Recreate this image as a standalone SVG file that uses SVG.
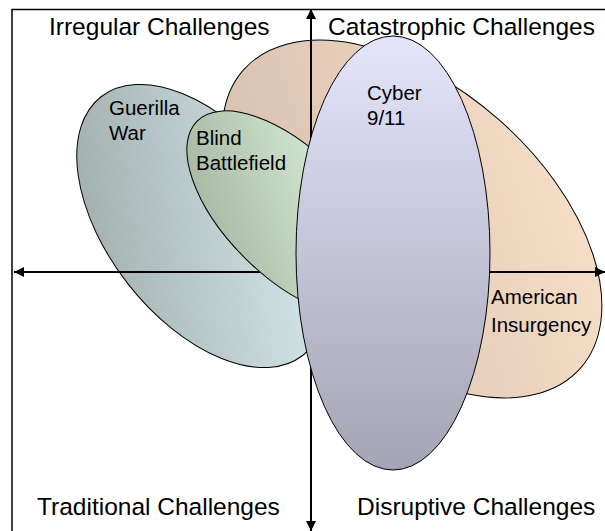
<svg xmlns="http://www.w3.org/2000/svg" width="605" height="531" viewBox="0 0 605 531">
<style>
.t{font-family:"Liberation Sans",Arial,sans-serif;font-size:24.5px;fill:#000}
.n{font-family:"Liberation Sans",Arial,sans-serif;font-size:20.5px;fill:#000}
.e{stroke:#000;stroke-width:1}
.ax{stroke:#000;stroke-width:2;fill:none}
</style>
<defs>
<linearGradient id="gO" x1="1" y1="0" x2="0" y2="1"><stop offset="0" stop-color="#fbe3cb"/><stop offset="1" stop-color="#d2bbab"/></linearGradient>
<linearGradient id="gG" x1="1" y1="0" x2="0" y2="1"><stop offset="0" stop-color="#dff2f6"/><stop offset="1" stop-color="#9aa6a5"/></linearGradient>
<linearGradient id="gB" x1="1" y1="0" x2="0" y2="1"><stop offset="0" stop-color="#e4fbe4"/><stop offset="1" stop-color="#a0b09c"/></linearGradient>
<linearGradient id="gC" x1="0" y1="0" x2="0" y2="1"><stop offset="0" stop-color="#e4e4fb"/><stop offset="1" stop-color="#a4a4b4"/></linearGradient>
<marker id="ah" viewBox="0 0 10 10" refX="10" refY="5" markerWidth="5" markerHeight="5" orient="auto" markerUnits="strokeWidth"><path d="M0,0L10,5L0,10z" fill="#000"/></marker>
</defs>
<g id="frame"><path d="M12,531V9.5H605" fill="none" stroke="#000" stroke-width="1.5"/></g>
<g id="american"><ellipse class="e" cx="412" cy="219" rx="225" ry="132" transform="rotate(41.5 412 219)" fill="url(#gO)"/>
<text class="n" x="491" y="304">American</text><text class="n" x="491" y="332">Insurgency</text></g>
<g id="guerilla"><ellipse class="e" cx="202" cy="226" rx="164" ry="94" transform="rotate(52 202 226)" fill="url(#gG)"/>
<text class="n" x="109" y="115">Guerilla</text><text class="n" x="109" y="140">War</text></g>
<g id="connectors">
<line class="ax" x1="311" y1="531" x2="311" y2="9" marker-end="url(#ah)"/>
<line class="ax" x1="311" y1="9" x2="311" y2="531" marker-end="url(#ah)"/>
<line class="ax" x1="311" y1="272" x2="14" y2="272" marker-end="url(#ah)"/>
<line class="ax" x1="311" y1="272" x2="605" y2="272" marker-end="url(#ah)"/>
</g>
<g id="blind"><ellipse class="e" cx="289" cy="213" rx="130" ry="63" transform="rotate(45 289 213)" fill="url(#gB)"/>
<text class="n" x="196" y="145">Blind</text><text class="n" x="196" y="170">Battlefield</text></g>
<g id="cyber"><ellipse class="e" cx="393" cy="253" rx="97" ry="217" fill="url(#gC)"/>
<text class="n" x="367" y="100">Cyber</text><text class="n" x="367" y="125">9/11</text></g>
<g id="labels">
<text class="t" x="49" y="35">Irregular Challenges</text>
<text class="t" x="328" y="35">Catastrophic Challenges</text>
<text class="t" x="37" y="515">Traditional Challenges</text>
<text class="t" x="357" y="515">Disruptive Challenges</text>
</g>
</svg>
